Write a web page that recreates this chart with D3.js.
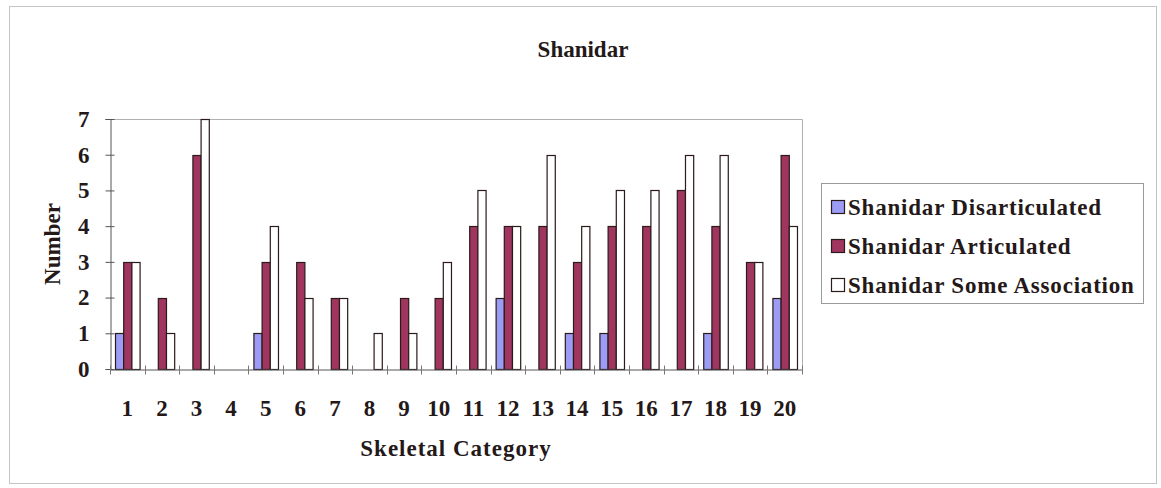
<!DOCTYPE html>
<html>
<head>
<meta charset="utf-8">
<script src="https://cdn.jsdelivr.net/npm/d3@7"></script>
<style>
  body { margin: 0; background: #fff; }
</style>
</head>
<body>
<div id="chart"></div>
<script>
// Shanidar skeletal categories, clustered columns

var categories = ["1","2","3","4","5","6","7","8","9","10","11","12","13","14","15","16","17","18","19","20"];
var seriesNames = ["Shanidar Disarticulated", "Shanidar Articulated", "Shanidar Some Association"];
var disarticulated  = [1,0,0,0,1,0,0,0,0,0,0,2,0,1,1,0,0,1,0,2];
var articulated     = [3,2,6,0,3,3,2,0,2,2,4,4,4,3,4,4,5,4,3,6];
var someAssociation = [3,1,7,0,4,2,2,1,1,3,5,4,6,4,5,5,6,6,3,4];
var yTicks = [0,1,2,3,4,5,6,7];
var colors = ["#9c9cf4", "#a03660", "#ffffff"];

var FONT = "'Liberation Serif', 'DejaVu Serif', serif";
var width = 1161, height = 488;
var plot = {left: 110, right: 802, top: 119, bottom: 369};

var svg = d3.select("#chart").append("svg")
    .attr("width", width)
    .attr("height", height);

// chart area border
svg.append("rect")
    .attr("x", 9.5).attr("y", 6.5)
    .attr("width", 1147).attr("height", 477)
    .attr("fill", "#fff")
    .attr("stroke", "#c4c4c4");

var x0 = d3.scaleBand()
    .domain(categories)
    .range([plot.left, plot.right])
    .paddingInner(0.29)
    .paddingOuter(0.145);

var x1 = d3.scaleBand()
    .domain(seriesNames)
    .range([0, x0.bandwidth()]);

var y = d3.scaleLinear()
    .domain([0, 7])
    .range([plot.bottom, plot.top]);

// plot area frame (top + right lighter)
svg.append("path")
    .attr("d", "M" + plot.left + "," + (plot.top + 0.5) + "H" + (plot.right + 0.5) + "V" + plot.bottom)
    .attr("fill", "none")
    .attr("stroke", "#b0b0b0");

var rows = categories.map(function(c, i) {
    return [
        {cat: c, name: seriesNames[0], v: disarticulated[i]},
        {cat: c, name: seriesNames[1], v: articulated[i]},
        {cat: c, name: seriesNames[2], v: someAssociation[i]}
    ];
});

var groups = svg.append("g").selectAll("g")
    .data(rows)
    .join("g")
    .attr("transform", function(d) { return "translate(" + x0(d[0].cat) + ",0)"; });

groups.selectAll("rect")
    .data(function(d) { return d.filter(function(b) { return b.v > 0; }); })
    .join("rect")
    .attr("x", function(d) { return x1(d.name) + 0.5; })
    .attr("y", function(d) { return Math.round(y(d.v)) + 0.5; })
    .attr("width", x1.bandwidth())
    .attr("height", function(d) { return plot.bottom - Math.round(y(d.v)); })
    .attr("fill", function(d) { return colors[seriesNames.indexOf(d.name)]; })
    .attr("stroke", "#2a1a1a")
    .attr("stroke-width", 1.2);

// y axis
var yAxis = svg.append("g")
    .attr("transform", "translate(" + (plot.left + 0.5) + ",0)")
    .call(d3.axisLeft(y).tickValues(yTicks).tickFormat(d3.format("d")).tickSize(5).tickPadding(16));
yAxis.select(".domain").attr("stroke", "#555");
yAxis.selectAll(".tick line").attr("x1", 4).attr("stroke", "#555");

// x axis, ticks on category boundaries
var xAxis = svg.append("g")
    .attr("transform", "translate(0," + (plot.bottom + 0.5) + ")")
    .call(d3.axisBottom(x0).tickSize(0).tickPadding(30));
xAxis.select(".domain").attr("stroke", "#555");

var step = x0.step();
var bounds = d3.range(categories.length + 1).map(function(i) { return plot.left + i * step; });
xAxis.selectAll(".bound")
    .data(bounds)
    .join("line")
    .attr("class", "bound")
    .attr("x1", function(d) { return Math.round(d) + 0.5; })
    .attr("x2", function(d) { return Math.round(d) + 0.5; })
    .attr("y1", -4).attr("y2", 5)
    .attr("stroke", "#777");

// titles
svg.append("text")
    .attr("x", 583).attr("y", 57)
    .attr("text-anchor", "middle")
    .text("Shanidar");

var xTitle = svg.append("text")
    .attr("x", (plot.left + plot.right) / 2).attr("y", 456)
    .attr("text-anchor", "middle")
    .text("Skeletal Category");

svg.append("text")
    .attr("transform", "translate(60," + ((plot.top + plot.bottom) / 2) + ") rotate(-90)")
    .attr("text-anchor", "middle")
    .text("Number");

// legend
var legend = svg.append("g").attr("transform", "translate(821,183)");
legend.append("rect")
    .attr("x", 0.5).attr("y", 0.5)
    .attr("width", 322).attr("height", 120)
    .attr("fill", "#fff")
    .attr("stroke", "#9a9a9a");

var items = legend.selectAll(".item")
    .data(seriesNames)
    .join("g")
    .attr("class", "item")
    .attr("transform", function(d, i) { return "translate(10," + (24 + i * 39) + ")"; });

items.append("rect")
    .attr("x", 0.5).attr("y", -6.5)
    .attr("width", 13).attr("height", 13)
    .attr("fill", function(d, i) { return colors[i]; })
    .attr("stroke", "#2a1a1a")
    .attr("stroke-width", 1.2);

var legendText = items.append("text")
    .attr("x", 17).attr("y", 8)
    .text(function(d) { return d; });

// one font for every label
svg.selectAll("text")
    .style("font-family", FONT)
    .style("font-weight", "bold")
    .style("font-size", "23px")
    .style("fill", "#241818");

// scanned original is a bit wider spaced
xTitle.style("letter-spacing", "1px");
legendText.style("letter-spacing", "0.8px");
</script>
</body>
</html>
